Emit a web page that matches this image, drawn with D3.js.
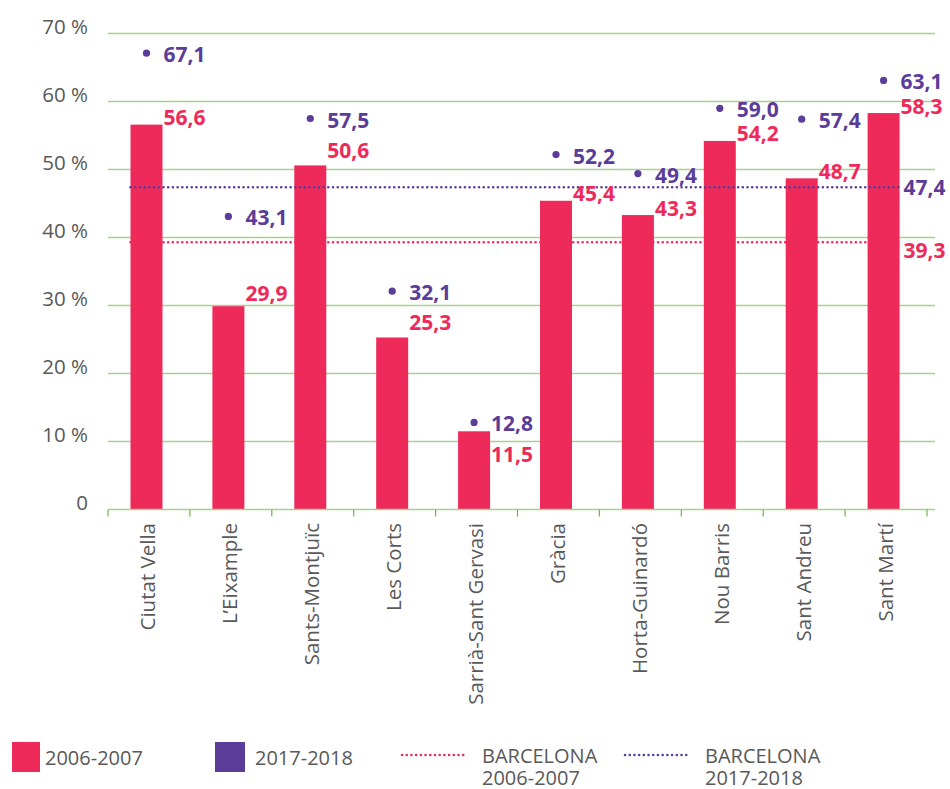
<!DOCTYPE html>
<html><head><meta charset="utf-8">
<script src="https://cdn.jsdelivr.net/npm/d3@7"></script>
<style>body{margin:0;background:#fff}svg{display:block}</style>
</head><body>
<svg id="c" width="950" height="789"></svg>
<script>
const categories = ["Ciutat Vella","L’Eixample","Sants-Montjuïc","Les Corts","Sarrià-Sant Gervasi","Gràcia","Horta-Guinardó","Nou Barris","Sant Andreu","Sant Martí"];
const values2006 = [56.6,29.9,50.6,25.3,11.5,45.4,43.3,54.2,48.7,58.3];
const values2017 = [67.1,43.1,57.5,32.1,12.8,52.2,49.4,59.0,57.4,63.1];
const barcelona2006 = 39.3;
const barcelona2017 = 47.4;
const yTicks = [0,10,20,30,40,50,60,70];
const legendLabels = ["2006-2007","2017-2018",["BARCELONA","2006-2007"],["BARCELONA","2017-2018"]];
// label layout tweaks (px) for overlapping value labels
const labelShift = [0,-6,-8,-8,30,0,0,0,0,0];

const PINK = "#EE2A5B", PURPLE = "#5B3C98", GRAY = "#595959", GRID = "#A9D18E", TICK = "#6DB54A";
const FONT = "'Open Sans', sans-serif";
const svg = d3.select("#c");
const fmt = v => d3.format(".1f")(v).replace(".", ",");

const y = d3.scaleLinear().domain([0,70]).range([509.5,33.5]);
const x = d3.scaleBand().domain(categories).range([108,927]).padding(0);
const bw = x.bandwidth();
const barW = 32;
const cx = c => x(c) + bw*0.47;

// gridlines
svg.append("g").selectAll("line").data(yTicks.filter(d=>d>0)).join("line")
  .attr("x1",108).attr("x2",935).attr("y1",d=>y(d)).attr("y2",d=>y(d))
  .attr("stroke",GRID).attr("stroke-width",1.3);

// y tick labels
svg.append("g").selectAll("text").data(yTicks).join("text")
  .attr("x",88).attr("y",d=>y(d)-8).attr("text-anchor","end").attr("dominant-baseline","central")
  .attr("font-family",FONT).attr("font-size",20.5).attr("fill",GRAY)
  .text(d=> d===0 ? "0" : d+" %");

// bars
svg.append("g").selectAll("rect").data(categories).join("rect")
  .attr("x",c=>cx(c)-barW/2).attr("width",barW)
  .attr("y",(c,i)=>y(values2006[i])).attr("height",(c,i)=>y(0)-y(values2006[i]))
  .attr("fill",PINK);

// x axis line and ticks
svg.append("line").attr("x1",108).attr("x2",935).attr("y1",y(0)).attr("y2",y(0))
  .attr("stroke",GRID).attr("stroke-width",1.5);
const tickPos = categories.map(c=>x(c)).concat([x.range()[1]]);
svg.append("g").selectAll("line").data(tickPos).join("line")
  .attr("x1",d=>d).attr("x2",d=>d).attr("y1",y(0)).attr("y2",y(0)+7)
  .attr("stroke",TICK).attr("stroke-width",1.2);

// category labels
svg.append("g").selectAll("text").data(categories).join("text")
  .attr("transform",c=>`translate(${cx(c)+1},523) rotate(-90)`)
  .attr("text-anchor","end").attr("dominant-baseline","central")
  .attr("font-family",FONT).attr("font-size",20.5).attr("fill",GRAY)
  .text(c=>c);

// Barcelona reference lines
const x0 = cx(categories[0]) - barW/2, x1 = cx(categories[categories.length-1]) + barW/2;
[[barcelona2006,PINK],[barcelona2017,PURPLE]].forEach(([v,col])=>{
  svg.append("line").attr("x1",x0).attr("x2",x1).attr("y1",y(v)).attr("y2",y(v))
    .attr("stroke",col).attr("stroke-width",2.6).attr("stroke-linecap","round")
    .attr("stroke-dasharray","0.01 4.7");
});
svg.append("text").attr("x",x1+4).attr("y",y(barcelona2017)).attr("dominant-baseline","central")
  .attr("font-family",FONT).attr("font-weight",700).attr("font-size",21).attr("fill",PURPLE).text(fmt(barcelona2017));
svg.append("text").attr("x",x1+4).attr("y",y(barcelona2006)+8).attr("dominant-baseline","central")
  .attr("font-family",FONT).attr("font-weight",700).attr("font-size",21).attr("fill",PINK).text(fmt(barcelona2006));

// 2017 dots
svg.append("g").selectAll("circle").data(categories).join("circle")
  .attr("cx",c=>cx(c)).attr("cy",(c,i)=>y(values2017[i])).attr("r",3.6).attr("fill",PURPLE);
svg.append("g").selectAll("text").data(categories).join("text")
  .attr("x",c=>cx(c)+17).attr("y",(c,i)=>y(values2017[i])+1).attr("dominant-baseline","central")
  .attr("font-family",FONT).attr("font-weight",700).attr("font-size",21).attr("fill",PURPLE)
  .text((c,i)=>fmt(values2017[i]));

// 2006 bar labels
svg.append("g").selectAll("text").data(categories).join("text")
  .attr("x",c=>cx(c)+barW/2+1).attr("y",(c,i)=>y(values2006[i])-7.5+labelShift[i]).attr("dominant-baseline","central")
  .attr("font-family",FONT).attr("font-weight",700).attr("font-size",21).attr("fill",PINK)
  .text((c,i)=>fmt(values2006[i]));

// legend
const lg = svg.append("g").attr("font-family",FONT).attr("font-size",20).attr("fill",GRAY);
lg.append("rect").attr("x",12).attr("y",742).attr("width",28).attr("height",30).attr("fill",PINK);
lg.append("text").attr("x",45).attr("y",757).attr("dominant-baseline","central").text(legendLabels[0]);
lg.append("rect").attr("x",215).attr("y",742).attr("width",30).attr("height",30).attr("fill",PURPLE);
lg.append("text").attr("x",255).attr("y",757).attr("dominant-baseline","central").text(legendLabels[1]);
[[402,466,482,PINK,legendLabels[2]],[625,690,705,PURPLE,legendLabels[3]]].forEach(([a,b,t,col,lab])=>{
  lg.append("line").attr("x1",a).attr("x2",b).attr("y1",755).attr("y2",755)
    .attr("stroke",col).attr("stroke-width",2.6).attr("stroke-linecap","round").attr("stroke-dasharray","0.01 4.7");
  lab.forEach((s,k)=>lg.append("text").attr("x",t).attr("y",755+k*22).attr("dominant-baseline","central").text(s));
});
</script>
</body></html>
